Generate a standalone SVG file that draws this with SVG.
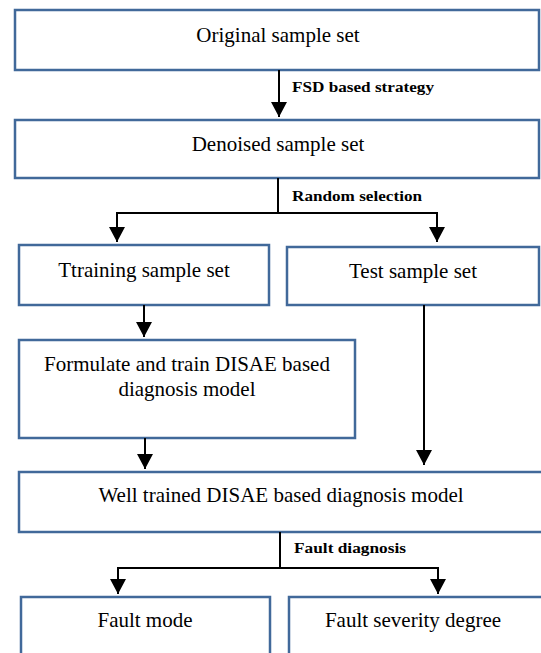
<svg xmlns="http://www.w3.org/2000/svg" width="541" height="653" viewBox="0 0 541 653">
<defs>
<marker id="ah" markerUnits="userSpaceOnUse" markerWidth="16" markerHeight="16" refX="15" refY="8" orient="auto">
<path d="M0,0 L15,8 L0,16 Z" fill="#000"/>
</marker>
<style>
.box{fill:#fff;stroke:#41699a;stroke-width:2.5}
.t{font-family:"Liberation Serif",serif;font-size:21px;fill:#000;text-anchor:middle}
.l{font-family:"Liberation Serif",serif;font-size:15px;font-weight:bold;fill:#000}
.c{fill:none;stroke:#000;stroke-width:2}
</style>
</defs>
<rect width="541" height="653" fill="#fff"/>
<g id="n1"><rect class="box" x="15" y="10" width="524" height="60"/><text class="t" x="278" y="42">Original sample set</text></g>
<g id="n2"><rect class="box" x="15" y="120" width="524" height="58"/><text class="t" x="278" y="151">Denoised sample set</text></g>
<g id="n3"><rect class="box" x="19" y="245" width="250" height="60"/><text class="t" x="144" y="277">Ttraining sample set</text></g>
<g id="n4"><rect class="box" x="287" y="247" width="252" height="58"/><text class="t" x="413" y="278">Test sample set</text></g>
<g id="n5"><rect class="box" x="19" y="340" width="336" height="98"/><text class="t" x="187" y="371">Formulate and train DISAE based</text><text class="t" x="187" y="396">diagnosis model</text></g>
<g id="n6"><rect class="box" x="19" y="472" width="524" height="60"/><text class="t" x="281" y="502">Well trained DISAE based diagnosis model</text></g>
<g id="n7"><rect class="box" x="21" y="597" width="249" height="60"/><text class="t" x="145" y="627">Fault mode</text></g>
<g id="n8"><rect class="box" x="289" y="597" width="254" height="60"/><text class="t" x="413" y="627">Fault severity degree</text></g>
<g id="connectors">
<path class="c" d="M279,70 V117" marker-end="url(#ah)"/>
<text class="l" x="292" y="92" textLength="142" lengthAdjust="spacingAndGlyphs">FSD based strategy</text>
<path class="c" d="M278,178 V213 M117,213 H437"/>
<path class="c" d="M117,212 V242" marker-end="url(#ah)"/>
<path class="c" d="M437,212 V242" marker-end="url(#ah)"/>
<text class="l" x="292" y="201" textLength="130" lengthAdjust="spacingAndGlyphs">Random selection</text>
<path class="c" d="M144,305 V337" marker-end="url(#ah)"/>
<path class="c" d="M424,305 V465" marker-end="url(#ah)"/>
<path class="c" d="M145,438 V469" marker-end="url(#ah)"/>
<path class="c" d="M280,532 V568 M117,568 H438"/>
<path class="c" d="M118,567 V594" marker-end="url(#ah)"/>
<path class="c" d="M438,567 V594" marker-end="url(#ah)"/>
<text class="l" x="294" y="553" textLength="112" lengthAdjust="spacingAndGlyphs">Fault diagnosis</text>
</g>
</svg>
